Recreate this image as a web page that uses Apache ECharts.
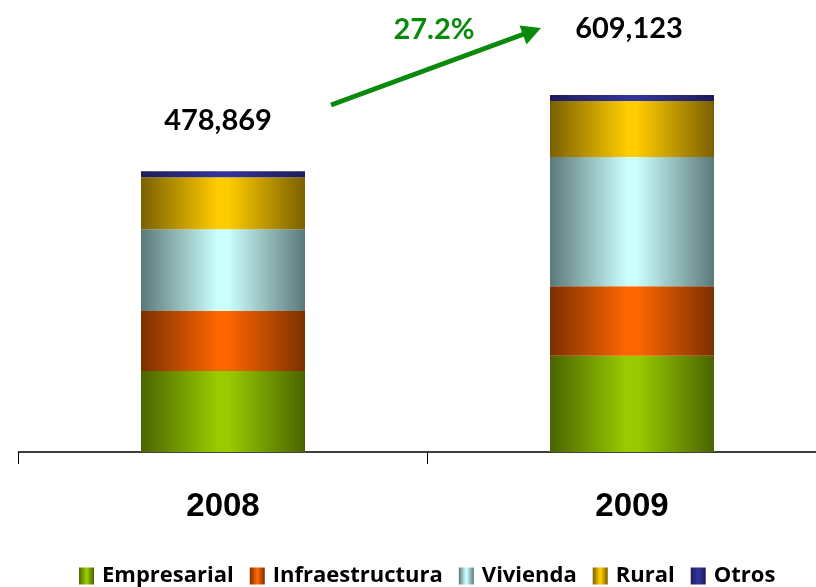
<!DOCTYPE html>
<html>
<head>
<meta charset="utf-8">
<script src="https://cdn.jsdelivr.net/npm/echarts@6/dist/echarts.min.js"></script>
<style>html,body{margin:0;padding:0;background:#fff;}#c{width:816px;height:587px;}</style>
</head>
<body>
<div id="c"></div>
<script>
const categories = ['2008', '2009'];
const empresarial = [138000, 164000];
const infraestructura = [102300, 118800];
const vivienda = [139700, 220300];
const rural = [88600, 95700];
const otros = [10269, 10323];
const seriesNames = ['Empresarial', 'Infraestructura', 'Vivienda', 'Rural', 'Otros'];

const totals = categories.map((c, i) => empresarial[i] + infraestructura[i] + vivienda[i] + rural[i] + otros[i]);
const growth = ((totals[1] / totals[0] - 1) * 100).toFixed(1) + '%';

function grad(edge, mid) {
  return new echarts.graphic.LinearGradient(0, 0, 1, 0, [
    { offset: 0, color: edge },
    { offset: 0.47, color: mid },
    { offset: 0.53, color: mid },
    { offset: 1, color: edge }
  ]);
}
const colors = [
  grad('#4a6400', '#99cc00'),
  grad('#7a3000', '#ff6600'),
  grad('#5c7878', '#ccffff'),
  grad('#7a6000', '#ffcc00'),
  grad('#1c1c5c', '#333399')
];

const allData = [empresarial, infraestructura, vivienda, rural, otros];
const labelDist = [36, 52];
const labelShift = [-5, -3];
const FONT = 'Lato, "Open Sans", sans-serif';

const series = seriesNames.map((name, s) => ({
  name: name,
  type: 'bar',
  stack: 'total',
  barWidth: 164,
  itemStyle: { color: colors[s] },
  emphasis: { disabled: true },
  data: allData[s].map((v, i) => {
    const item = { value: v };
    if (s === 4) {
      item.label = {
        show: true, position: 'top',
        distance: labelDist[i], offset: [labelShift[i], 0],
        formatter: () => totals[i].toLocaleString('en-US'),
        fontFamily: FONT, fontWeight: 'bold', fontSize: 29, color: '#000'
      };
    }
    return item;
  })
}));

const chart = echarts.init(document.getElementById('c'), null, { renderer: 'canvas' });
chart.setOption({
  animation: false,
  backgroundColor: '#fff',
  grid: { left: 18.5, width: 818, top: 0, bottom: 135, outerBoundsMode: 'none', containLabel: false },
  xAxis: {
    type: 'category',
    data: categories,
    boundaryGap: true,
    axisLine: { lineStyle: { color: '#000', width: 1.5 } },
    axisTick: { show: true, length: 12, lineStyle: { color: '#000', width: 1 } },
    axisLabel: {
      margin: 38, fontSize: 33, fontWeight: 'bold', color: '#000',
      fontFamily: '"Liberation Sans", Arial, sans-serif'
    }
  },
  yAxis: { type: 'value', min: 0, max: 771000, show: false, splitLine: { show: false } },
  legend: {
    data: seriesNames,
    top: 565,
    left: 79,
    padding: 0,
    itemWidth: 15,
    itemHeight: 17,
    itemGap: 16,
    icon: 'rect',
    textStyle: { fontFamily: '"Open Sans", Lato, sans-serif', fontWeight: 'bold', fontSize: 22, color: '#000', padding: [0, 0, 0, 3] }
  },
  graphic: [
    {
      type: 'line',
      shape: { x1: 331, y1: 105, x2: 524, y2: 34 },
      style: { stroke: '#0a8a0a', lineWidth: 5 }
    },
    {
      type: 'polygon',
      shape: { points: [[541, 28], [519.5, 25.5], [526.5, 44.5]] },
      style: { fill: '#0a8a0a' }
    },
    {
      type: 'text',
      x: 434, y: 30,
      style: {
        text: growth, fontFamily: FONT, fontWeight: 'bold', fontSize: 29,
        fill: '#0a8a0a', align: 'center', verticalAlign: 'middle'
      }
    }
  ],
  series: series
});
</script>
</body>
</html>
